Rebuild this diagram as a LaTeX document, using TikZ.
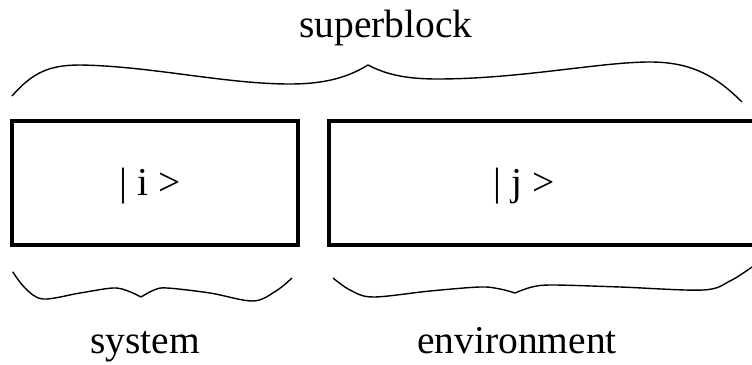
\documentclass[tikz,border=0pt]{standalone}
\usepackage{fontspec}
\setmainfont{Liberation Serif}
\begin{document}
\begin{tikzpicture}[x=1pt,y=-1pt,
  lbl/.style={font=\fontsize{39.5}{42}\selectfont, anchor=base, inner sep=0pt},
  blockbox/.style={draw, line width=3.6pt, minimum width=#1, minimum height=124pt, inner sep=0pt},
  bracecurve/.style={line width=1.4pt, line join=round}]
\useasboundingbox (0,0) rectangle (752,364);

% two blocks
\node[blockbox=286pt] (sys) at (155,183) {};
\node[blockbox=436pt] (env) at (547,183) {};
\node[lbl] (ket i) at (150,195) {| i >};
\node[lbl] (ket j) at (524,195) {| j >};

% labels
\node[lbl] (super) at (386,37) {superblock};
\node[lbl] (sysl) at (145,353) {system};
\node[lbl] (envl) at (517,353) {environment};

% brace over both blocks
\draw[bracecurve] (12,96) .. controls (33,72) and (50,65) .. (80,65)
  .. controls (150,66) and (225,84) .. (290,84)
  .. controls (328,84) and (350,76) .. (368,65)
  .. controls (385,74) and (405,79) .. (437,79)
  .. controls (520,79) and (600,62) .. (650,62)
  .. controls (690,62) and (715,75) .. (742,102);

% brace under the system block
\draw[bracecurve] plot[smooth, tension=0.55] coordinates
  {(12.7,271.7) (25,288) (43,299) (80,293) (113,288) (128,291) (141,297)};
\draw[bracecurve] plot[smooth, tension=0.55] coordinates
  {(141,297) (154,290) (167,288) (210,293) (253,301) (276,291) (292,278)};

% brace under the environment block
\draw[bracecurve] plot[smooth, tension=0.55] coordinates
  {(333,278) (350,290) (373,297) (430,291) (480,287) (500,289) (515,293)};
\draw[bracecurve] plot[smooth, tension=0.55] coordinates
  {(515,293) (532,287) (553,285) (620,287) (703,290) (730,281) (752,267)};
\end{tikzpicture}
\end{document}
